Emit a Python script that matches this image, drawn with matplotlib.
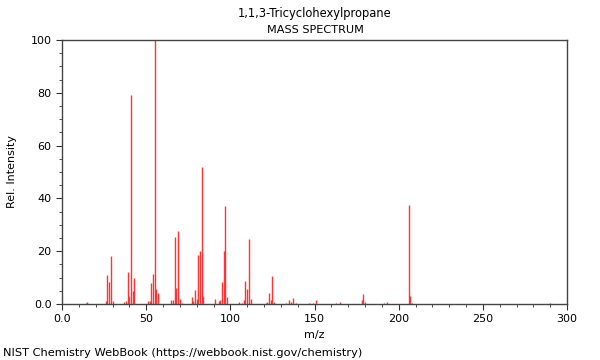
import matplotlib
matplotlib.use("Agg")
import matplotlib.pyplot as plt
from matplotlib.ticker import MultipleLocator, FixedLocator

title = "1,1,3-Tricyclohexylpropane"
subtitle = "MASS SPECTRUM"
footer = "NIST Chemistry WebBook (https://webbook.nist.gov/chemistry)"

mz = [14, 15, 26, 27, 28, 29, 30, 37, 38, 39, 40, 41, 42, 43,
      51, 52, 53, 54, 55, 56, 57, 65, 66, 67, 68, 69, 70, 71,
      77, 78, 79, 80, 81, 82, 83, 84, 91, 93, 94, 95, 96, 97, 98,
      105, 107, 108, 109, 110, 111, 112, 121, 122, 123, 124, 125, 126,
      133, 135, 136, 137, 139, 147, 149, 151, 163, 165, 178, 179, 180,
      191, 193, 206, 207, 208, 290]
intensity = [0.5, 0.8, 1.0, 11.0, 8.4, 18.3, 1.0, 0.8, 1.0, 12.0, 3.0, 79.2, 5.0, 10.0,
             1.0, 1.0, 7.8, 11.5, 100.0, 5.6, 4.0, 1.4, 1.5, 25.2, 6.0, 27.6, 2.0, 0.5,
             2.5, 1.0, 5.3, 2.0, 18.4, 19.9, 51.8, 3.0, 2.0, 1.0, 1.5, 8.5, 20.0, 37.3, 2.5,
             0.8, 0.5, 1.4, 8.6, 5.6, 24.7, 1.8, 0.4, 0.8, 4.3, 1.4, 10.5, 0.8,
             0.4, 1.5, 0.8, 2.3, 0.5, 0.5, 0.5, 1.4, 0.5, 0.7, 1.7, 3.8, 0.8,
             0.5, 0.6, 37.4, 3.0, 0.5, 0.5]

x_ticks = [0, 50, 100, 150, 200, 250, 300]
x_labels = ["0.0", "50", "100", "150", "200", "250", "300"]
y_ticks = [0, 20, 40, 60, 80, 100]
y_labels = ["0.0", "20", "40", "60", "80", "100"]

fig = plt.figure(figsize=(6, 3.6), dpi=100)
ax = fig.add_axes([62/600, 1-304/360, 505/600, 264/360])

ax.vlines(mz, 0, intensity, colors="#ff3333", linewidth=1.0)

ax.set_xlim(0, 300)
ax.set_ylim(0, 100)
ax.xaxis.set_major_locator(FixedLocator(x_ticks))
ax.set_xticklabels(x_labels)
ax.yaxis.set_major_locator(FixedLocator(y_ticks))
ax.set_yticklabels(y_labels)
ax.xaxis.set_minor_locator(MultipleLocator(10))
ax.yaxis.set_minor_locator(MultipleLocator(5))
ax.tick_params(which="both", direction="out", labelsize=8, colors="#333333",
               labelcolor="black", top=False, right=False)
ax.tick_params(which="major", length=4)
ax.tick_params(which="minor", length=2.5)
for s in ax.spines.values():
    s.set_color("#444444")
    s.set_linewidth(1.0)

ax.set_xlabel("m/z", fontsize=8, labelpad=4)
ax.set_ylabel("Rel. Intensity", fontsize=8, labelpad=10)

fig.text(315/600, 1-13/360, title, ha="center", va="center", fontsize=8.3)
fig.text(315/600, 1-30/360, subtitle, ha="center", va="center", fontsize=8.1)
fig.text(3/600, 1-353/360, footer, ha="left", va="center", fontsize=8.2)

fig.savefig("out.png", dpi=100)
